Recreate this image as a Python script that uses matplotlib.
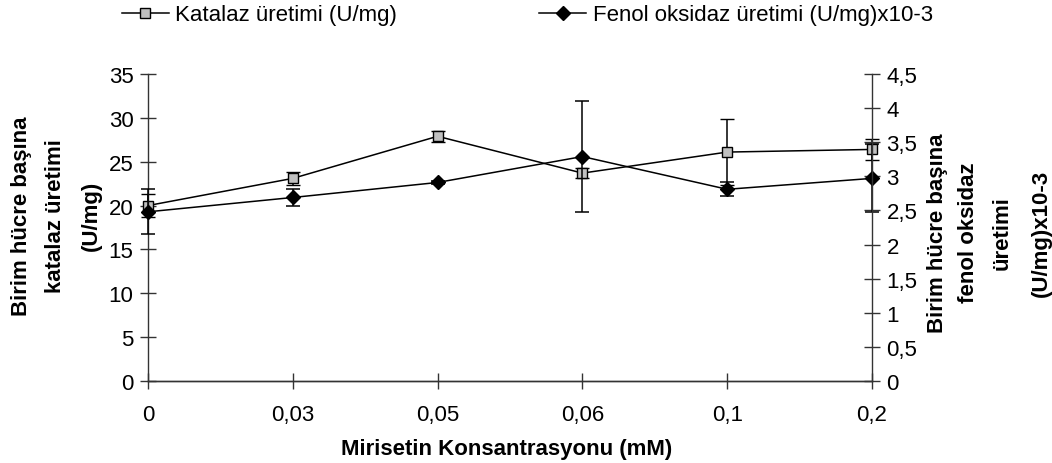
import matplotlib
matplotlib.use("Agg")
import matplotlib.pyplot as plt

# Mirisetin konsantrasyonları (mM) ve ölçülen üretim değerleri
konsantrasyon = ["0", "0,03", "0,05", "0,06", "0,1", "0,2"]
katalaz = [20.0, 23.1, 27.9, 23.7, 26.1, 26.4]
katalaz_hata = [1.3, 0.7, 0.6, 0.6, 3.8, 1.2]
fenol = [2.48, 2.69, 2.91, 3.29, 2.81, 2.97]
fenol_hata = [0.33, 0.13, 0.02, 0.82, 0.10, 0.50]

sol_tikler = [0, 5, 10, 15, 20, 25, 30, 35]
sag_tikler = [0, 0.5, 1, 1.5, 2, 2.5, 3, 3.5, 4, 4.5]

plt.rcParams.update({
    "font.family": ["Liberation Sans", "DejaVu Sans"],
    "font.size": 16,
})

W, H = 1052, 464
fig = plt.figure(figsize=(W / 100, H / 100), dpi=100)
ax = fig.add_axes([148 / W, 82 / H, 724 / W, 307 / H])
ax2 = ax.twinx()

x = list(range(len(konsantrasyon)))
eksen_renk = "#333333"

e1 = ax.errorbar(x, katalaz, yerr=katalaz_hata, color="black", lw=1.1,
                 marker="s", ms=7, mfc="#c0c0c0", mec="black", mew=1.0,
                 ecolor="black", elinewidth=1.1, capsize=5, capthick=1.1,
                 label="Katalaz üretimi (U/mg)")
e2 = ax2.errorbar(x, fenol, yerr=fenol_hata, color="black", lw=1.1,
                  marker="D", ms=7, mfc="black", mec="black",
                  ecolor="black", elinewidth=1.1, capsize=5, capthick=1.1,
                  label="Fenol oksidaz üretimi (U/mg)x10-3")

# kenardaki işaretler kesilmesin
for e in (e1, e2):
    for parca in e.get_children():
        parca.set_clip_on(False)

ax.set_xlim(0, len(konsantrasyon) - 1)
ax.set_ylim(0, 35)
ax2.set_ylim(0, 4.5)
ax.set_xticks(x)
ax.set_xticklabels(konsantrasyon)
ax.set_yticks(sol_tikler)
ax.set_yticklabels([str(t) for t in sol_tikler])
ax2.set_yticks(sag_tikler)
ax2.set_yticklabels([f"{t:g}".replace(".", ",") for t in sag_tikler])

for a in (ax, ax2):
    a.spines["top"].set_visible(False)
    for s in a.spines.values():
        s.set_color(eksen_renk)
        s.set_linewidth(1.0)
ax.spines["right"].set_visible(False)
ax2.spines["left"].set_visible(False)

ax.tick_params(axis="y", direction="inout", length=11, width=1.0, color=eksen_renk, pad=5)
ax.tick_params(axis="x", direction="inout", length=11, width=1.0, color=eksen_renk, pad=11)
ax2.tick_params(axis="y", direction="inout", length=11, width=1.0, color=eksen_renk, pad=5)

# eksen başlıkları
fig.text(507 / W, 1 - 450 / H, "Mirisetin Konsantrasyonu (mM)", ha="center", va="center",
         fontweight="bold")
for xp, satir in zip([22, 56, 91], ["Birim hücre başına", "katalaz üretimi", "(U/mg)"]):
    fig.text(xp / W, 1 - 216 / H, satir, rotation=90, ha="center", va="center",
             fontweight="bold")
for xp, satir in zip([937, 969, 1002, 1041],
                     ["Birim hücre başına", "fenol oksidaz", "üretimi", "(U/mg)x10-3"]):
    fig.text(xp / W, 1 - 233 / H, satir, rotation=90, ha="center", va="center",
             fontweight="bold")

# lejantta hata çubukları olmadan yalnızca çizgi ve işaret
fig.legend(handles=[e1.lines[0], e2.lines[0]],
           labels=["Katalaz üretimi (U/mg)", "Fenol oksidaz üretimi (U/mg)x10-3"],
           loc="center left", bbox_to_anchor=(122 / W, 1 - 16 / H),
           ncol=2, frameon=False, borderpad=0, borderaxespad=0,
           handlelength=2.1, handletextpad=0.3, columnspacing=6.4, fontsize=16)

fig.savefig("out.png", dpi=100)
